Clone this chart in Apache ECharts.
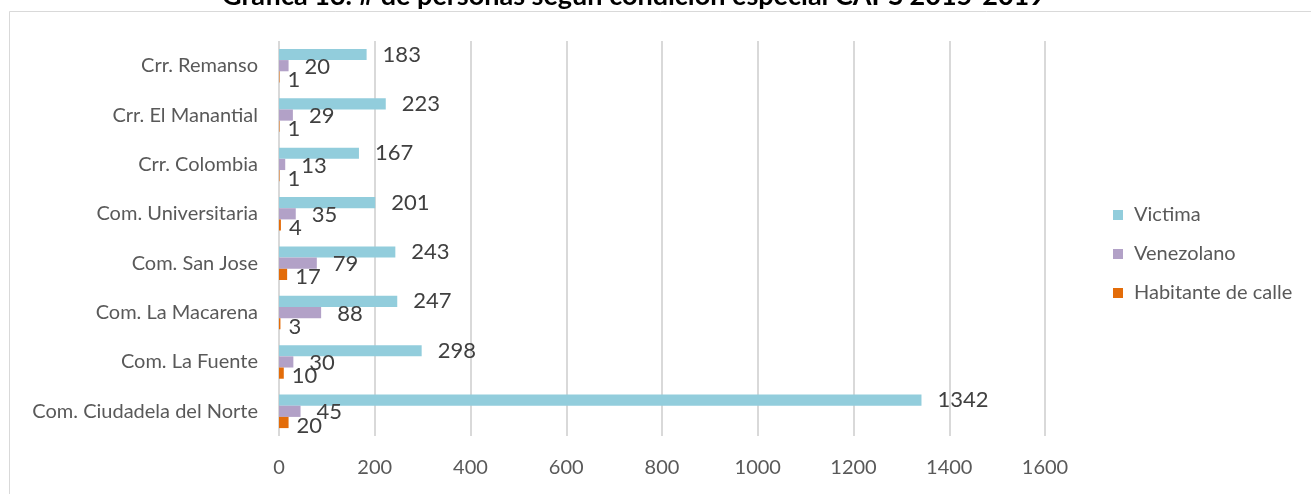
<!DOCTYPE html>
<html>
<head>
<meta charset="utf-8">
<script src="https://cdn.jsdelivr.net/npm/echarts@6/dist/echarts.min.js"></script>
<style>
body { margin: 0; background: #fff; }
#chart { width: 1311px; height: 494px; }
</style>
</head>
<body>
<div id="chart"></div>
<script>
// categories bottom -> top (category axis draws first item at the bottom)
const categorias = ['Com. Ciudadela del Norte', 'Com. La Fuente', 'Com. La Macarena', 'Com. San Jose',
  'Com. Universitaria', 'Crr. Colombia', 'Crr. El Manantial', 'Crr. Remanso']
const victima = [1342, 298, 247, 243, 201, 167, 223, 183]
const venezolano = [45, 30, 88, 79, 35, 13, 29, 20]
const habitante = [20, 10, 3, 17, 4, 1, 1, 1]
const xTicks = [0, 1600, 200]   // min, max, interval

const fuente = 'Lato'
const chart = echarts.init(document.getElementById('chart'))

function serie(name, data, color, dist, dy) {
  return {
    name: name,
    type: 'bar',
    data: data,
    barGap: '0%',
    barCategoryGap: '32%',
    itemStyle: { color: color },
    label: {
      show: true,
      position: 'right',
      distance: dist,
      offset: [0, dy],
      color: '#404040',
      fontFamily: fuente,
      fontSize: 22
    }
  }
}

chart.setOption({
  backgroundColor: '#fff',
  animation: false,
  title: {
    text: 'Gráfica 13. # de personas según condición especial CAPS 2015-2019',
    left: 222,
    top: -17,
    padding: 0,
    textStyle: { fontFamily: fuente, fontSize: 27, fontWeight: 'bold', color: '#000' }
  },
  graphic: [{
    type: 'rect',
    shape: { x: 9.5, y: 11.5, width: 1400, height: 600 },
    style: { fill: 'none', stroke: '#d9d9d9', lineWidth: 1 },
    z: -1
  }],
  legend: {
    orient: 'vertical',
    left: 1108,
    top: 200,
    itemWidth: 10,
    itemHeight: 10,
    itemGap: 19,
    icon: 'rect',
    data: ['Victima', 'Venezolano', 'Habitante de calle'],
    textStyle: { fontFamily: fuente, fontSize: 20, color: '#595959', padding: [0, 0, 0, 6] }
  },
  grid: { left: 279, right: 266, top: 41, bottom: 58 },
  xAxis: {
    type: 'value',
    min: xTicks[0],
    max: xTicks[1],
    interval: xTicks[2],
    axisLine: { show: false },
    axisTick: { show: false },
    splitLine: { lineStyle: { color: '#d9d9d9', width: 2 } },
    axisLabel: { color: '#595959', fontFamily: fuente, fontSize: 20, margin: 22, formatter: v => String(v) }
  },
  yAxis: {
    type: 'category',
    data: categorias,
    axisLine: { show: false },
    axisTick: { show: false },
    axisLabel: { color: '#595959', fontFamily: fuente, fontSize: 20, margin: 21 }
  },
  series: [
    serie('Victima', victima, '#92cddc', 16, 0),
    serie('Venezolano', venezolano, '#b2a1c7', 16, 1),
    serie('Habitante de calle', habitante, '#e36c09', 8, 3)
  ]
})
</script>
</body>
</html>
